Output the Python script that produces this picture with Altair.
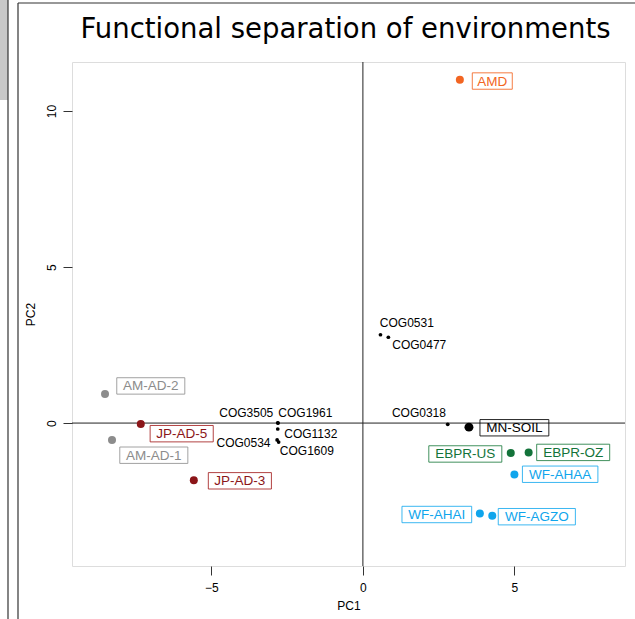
import altair as alt
import pandas as pd

# ---------------- data ----------------
title_text = "Functional separation of environments"

env_names = ["AMD", "AM-AD-2", "JP-AD-5", "AM-AD-1", "JP-AD-3", "MN-SOIL",
             "EBPR-US", "EBPR-OZ", "WF-AHAA", "WF-AHAI", "WF-AGZO"]
env_group = ["AMD", "AM-AD", "JP-AD", "AM-AD", "JP-AD", "MN-SOIL",
             "EBPR", "EBPR", "WF", "WF", "WF"]
env_pc1 = [3.2, -8.51, -7.33, -8.28, -5.58, 3.5, 4.88, 5.47, 5.0, 3.86, 4.27]
env_pc2 = [11.0, 0.93, -0.03, -0.54, -1.83, -0.13, -0.96, -0.94, -1.65, -2.9, -2.97]
# label anchor (centre of the boxed label) in data units
env_label_pc1 = [4.27, -7.0, -5.98, -6.9, -4.06, 5.0, 3.38, 6.94, 6.51, 2.44, 5.74]
env_label_pc2 = [10.96, 1.19, -0.34, -1.03, -1.85, -0.15, -0.99, -0.94, -1.64, -2.93, -3.0]

cog_names = ["COG3505", "COG1961", "COG1132", "COG0534", "COG1609",
             "COG0531", "COG0477", "COG0318"]
cog_pc1 = [-2.81, -2.8, -2.81, -2.83, -2.78, 0.58, 0.84, 2.8]
cog_pc2 = [0.01, 0.0, -0.19, -0.54, -0.61, 2.83, 2.75, -0.04]
cog_label_pc1 = [-3.85, -1.9, -1.72, -3.94, -1.85, 1.45, 1.86, 1.85]
cog_label_pc2 = [0.31, 0.31, -0.35, -0.63, -0.89, 3.2, 2.49, 0.33]

groups = ["AMD", "AM-AD", "JP-AD", "MN-SOIL", "EBPR", "WF"]
point_colors = ["#F26522", "#8C8C8C", "#8B1518", "#000000", "#13733A", "#0FA5EC"]
text_colors = ["#F26522", "#929292", "#A52222", "#000000", "#217E42", "#1AAAEF"]

x_ticks = [-5, 0, 5]
y_ticks = [0, 5, 10]
x_domain = [-9.6, 8.65]
y_domain = [-4.58, 11.57]

# ---------------- layout ----------------
W, H = 553, 504
PAD = {"left": 72, "top": 62, "right": 10, "bottom": 53}
LABEL_FS = 13.5
COG_FS = 12

# Arial / Liberation Sans advance widths (per 1000 em)
AW = {"A": 667, "M": 833, "D": 722, "-": 333, "J": 500, "P": 667, "S": 667,
      "O": 778, "I": 278, "L": 556, "N": 722, "E": 667, "B": 667, "R": 722,
      "U": 722, "Z": 611, "W": 944, "F": 611, "H": 722, "G": 778, "C": 722}


def text_w(s, fs):
    return sum(AW.get(ch, 556) for ch in s) / 1000.0 * fs


px_x = W / (x_domain[1] - x_domain[0])
px_y = H / (y_domain[1] - y_domain[0])

env = pd.DataFrame({
    "name": env_names, "group": env_group,
    "pc1": env_pc1, "pc2": env_pc2,
    "lx": env_label_pc1, "ly": env_label_pc2,
})
half_w = [(text_w(n, LABEL_FS) * 1.1 + 7) / 2 / px_x for n in env_names]
half_h = 8.2 / px_y
env["bx1"] = env["lx"] - half_w
env["bx2"] = env["lx"] + half_w
env["by1"] = env["ly"] - half_h
env["by2"] = env["ly"] + half_h

cog = pd.DataFrame({"name": cog_names, "pc1": cog_pc1, "pc2": cog_pc2,
                    "lx": cog_label_pc1, "ly": cog_label_pc2})

xs = alt.Scale(domain=x_domain, nice=False, zero=False)
ys = alt.Scale(domain=y_domain, nice=False, zero=False)
pcol = alt.Scale(domain=groups, range=point_colors)
tcol = alt.Scale(domain=groups, range=text_colors)

x_axis = alt.Axis(values=x_ticks, title="PC1", grid=False, domain=False,
                  tickColor="#333333", tickSize=9, labelPadding=7,
                  labelFont="Liberation Sans", labelFontSize=12, labelColor="#000000",
                  titleFont="Liberation Sans", titleFontSize=12, titleFontWeight="normal",
                  titleColor="#000000", titlePadding=7)
y_axis = alt.Axis(values=y_ticks, title="PC2", grid=False, domain=False,
                  tickColor="#333333", tickSize=9, labelPadding=5,
                  labelAngle=-90, labelAlign="center", labelBaseline="bottom",
                  labelFont="Liberation Sans", labelFontSize=12, labelColor="#000000",
                  titleFont="Liberation Sans", titleFontSize=12, titleFontWeight="normal",
                  titleColor="#000000", titlePadding=8)

zero = pd.DataFrame({"v": [0]})
vline = alt.Chart(zero).mark_rule(color="#222222", strokeWidth=1).encode(
    x=alt.X("v:Q", scale=xs, axis=x_axis))
hline = alt.Chart(zero).mark_rule(color="#222222", strokeWidth=1).encode(
    y=alt.Y("v:Q", scale=ys, axis=y_axis))

env_pts = alt.Chart(env).mark_circle(opacity=1).encode(
    x=alt.X("pc1:Q", scale=xs, axis=x_axis),
    y=alt.Y("pc2:Q", scale=ys, axis=y_axis),
    color=alt.Color("group:N", scale=pcol, legend=None),
    size=alt.condition(alt.datum.group == "MN-SOIL", alt.value(80), alt.value(64)),
)

boxes = alt.Chart(env).mark_rect(fill="white", fillOpacity=0, strokeWidth=1, strokeOpacity=0.85).encode(
    x=alt.X("bx1:Q", scale=xs, axis=x_axis), x2="bx2:Q",
    y=alt.Y("by1:Q", scale=ys, axis=y_axis), y2="by2:Q",
    stroke=alt.Stroke("group:N", scale=tcol, legend=None),
)

env_txt = alt.Chart(env).mark_text(font="Liberation Sans", fontSize=LABEL_FS,
                                   align="center", baseline="middle", dy=0.5).encode(
    x=alt.X("lx:Q", scale=xs, axis=x_axis),
    y=alt.Y("ly:Q", scale=ys, axis=y_axis),
    text="name:N",
    color=alt.Color("group:N", scale=tcol, legend=None),
)

cog_pts = alt.Chart(cog).mark_circle(color="#000000", size=14, opacity=1).encode(
    x=alt.X("pc1:Q", scale=xs, axis=x_axis),
    y=alt.Y("pc2:Q", scale=ys, axis=y_axis),
)
cog_txt = alt.Chart(cog).mark_text(font="Liberation Sans", fontSize=COG_FS, color="#000000",
                                   align="center", baseline="middle").encode(
    x=alt.X("lx:Q", scale=xs, axis=x_axis),
    y=alt.Y("ly:Q", scale=ys, axis=y_axis),
    text="name:N",
)

# title drawn as a text mark above the plot frame
title_df = pd.DataFrame({"t": [title_text]})
title_mark = alt.Chart(title_df).mark_text(
    font="DejaVu Sans", fontSize=27.5, color="#000000",
    align="center", baseline="alphabetic").encode(
    text="t:N", x=alt.value(W / 2 - 3), y=alt.value(-24))

# surrounding frame fragments of the original figure (decoration, outside plot)
one = pd.DataFrame({"k": [0]})
deco_block = alt.Chart(one).mark_rect(color="#C8C8C8").encode(
    x=alt.value(-72), x2=alt.value(-64), y=alt.value(-62), y2=alt.value(38))
deco_l1 = alt.Chart(one).mark_rule(color="#333333", strokeWidth=1.2).encode(
    x=alt.value(-64), y=alt.value(-62), y2=alt.value(557))
deco_l2 = alt.Chart(one).mark_rule(color="#333333", strokeWidth=1.2).encode(
    x=alt.value(-54), y=alt.value(-59), y2=alt.value(557))
deco_top = alt.Chart(one).mark_rule(color="#333333", strokeWidth=1.2).encode(
    x=alt.value(-54), x2=alt.value(563), y=alt.value(-59))

chart = alt.layer(
    deco_block, deco_l1, deco_l2, deco_top, title_mark,
    vline, hline, boxes, env_pts, env_txt, cog_pts, cog_txt
).properties(
    width=W, height=H,
    padding=PAD, autosize="none",
).configure_view(stroke="#333333", strokeWidth=1.2).configure(background="white")

chart.save("out.html", embed_options={"renderer": "svg", "actions": False})
